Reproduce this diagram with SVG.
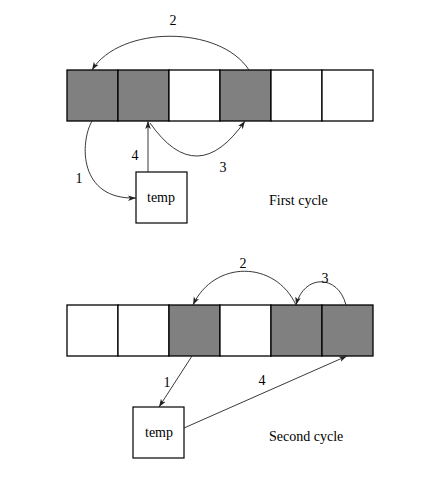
<svg xmlns="http://www.w3.org/2000/svg" width="438" height="491" viewBox="0 0 438 491">
<style>
.cell{stroke:#000;stroke-width:1.3;fill:#fff}
.sh{fill:#808080}
.box{stroke:#000;stroke-width:1.2;fill:#fff}
.con{stroke:#222;stroke-width:0.9;fill:none;marker-end:url(#ah)}
text{font-family:"Liberation Serif","Times New Roman",serif;font-size:14px;fill:#000}
.c{text-anchor:middle}
</style>
<defs>
<marker id="ah" viewBox="0 0 10 10" refX="10" refY="5" markerWidth="8" markerHeight="8" markerUnits="userSpaceOnUse" orient="auto">
<path d="M0,1.5 L10,5 L0,8.5 L2.5,5 Z" fill="#222"/>
</marker>
</defs>
<rect width="438" height="491" fill="#fff"/>
<g id="row1">
<rect class="cell sh" x="67" y="70" width="51" height="51"/>
<rect class="cell sh" x="118" y="70" width="51" height="51"/>
<rect class="cell" x="169" y="70" width="51" height="51"/>
<rect class="cell sh" x="220" y="70" width="51" height="51"/>
<rect class="cell" x="271" y="70" width="51" height="51"/>
<rect class="cell" x="322" y="70" width="51" height="51"/>
</g>
<g id="temp1">
<rect class="box" x="136" y="172" width="51" height="51"/>
<text class="c" x="161" y="202">temp</text>
</g>
<g id="row2">
<rect class="cell" x="67" y="305" width="51" height="51"/>
<rect class="cell" x="118" y="305" width="51" height="51"/>
<rect class="cell sh" x="169" y="305" width="51" height="51"/>
<rect class="cell" x="220" y="305" width="51" height="51"/>
<rect class="cell sh" x="271" y="305" width="51" height="51"/>
<rect class="cell sh" x="322" y="305" width="51" height="51"/>
</g>
<g id="temp2">
<rect class="box" x="133" y="407" width="51" height="51"/>
<text class="c" x="159" y="437">temp</text>
</g>
<g id="connectors">
<path class="con" d="M249,70 C220,25 120,25 92,70"/>
<path class="con" d="M92,121 C80,142 78,200 136,198"/>
<path class="con" d="M148,172 L148,121"/>
<path class="con" d="M150,123 Q197,190 245,121"/>
<path class="con" d="M296,305 C275,260 214,260 193,305"/>
<path class="con" d="M346,305 C338,274 304,274 296,305"/>
<path class="con" d="M192,356 L159,407"/>
<path class="con" d="M184,428 L347,356"/>
</g>
<g id="labels">
<text class="c" x="173" y="25">2</text>
<text class="c" x="79" y="183">1</text>
<text class="c" x="135" y="160">4</text>
<text class="c" x="223" y="172">3</text>
<text x="269" y="205">First cycle</text>
<text class="c" x="243" y="268">2</text>
<text class="c" x="325" y="283">3</text>
<text class="c" x="167" y="387">1</text>
<text class="c" x="262" y="385">4</text>
<text x="269" y="441">Second cycle</text>
</g>
</svg>
